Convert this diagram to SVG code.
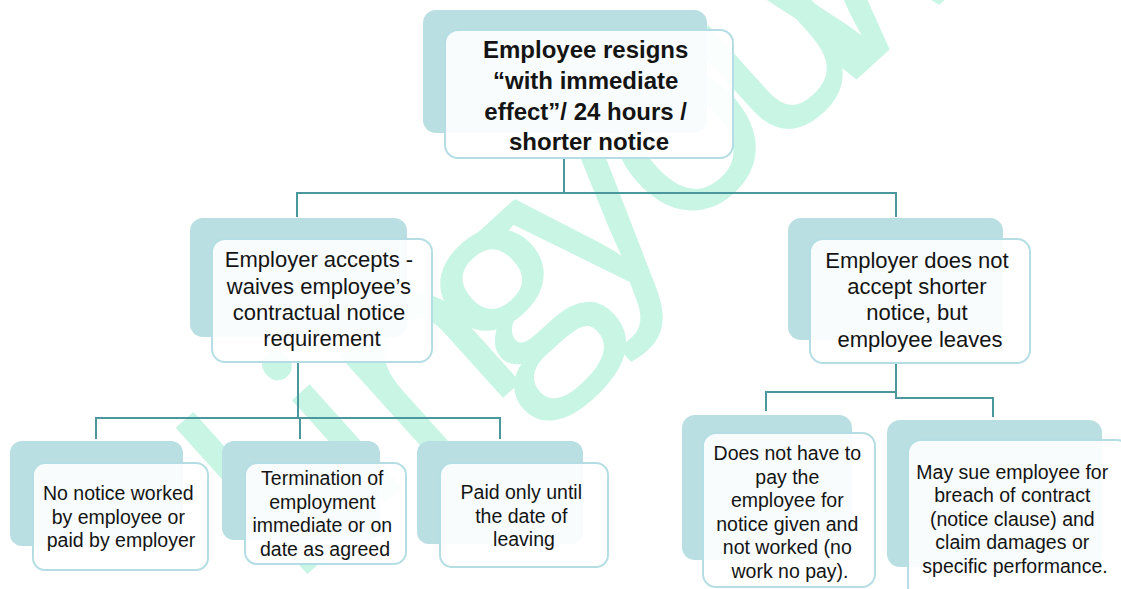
<svg xmlns="http://www.w3.org/2000/svg" width="1121" height="589" viewBox="0 0 1121 589">
  <style>
    .back { fill: #b9dfe2; }
    .front { fill: #ffffff; fill-opacity: 0.9; stroke: #b5dee4; stroke-width: 2; }
    .t { font-family: "Liberation Sans", Arial, sans-serif; fill: #141414; text-anchor: middle; }
    .title { font-size: 24px; font-weight: bold; }
    .mid { font-size: 22px; }
    .leaf { font-size: 19.5px; }
    .link { fill: none; stroke: #4a979d; stroke-width: 2; }
    .mark { font-family: "Open Sans", "Liberation Sans", sans-serif; font-size: 255px; fill: #c8f5e4; stroke: #c8f5e4; stroke-width: 3; }
  </style>

  <rect width="1121" height="589" fill="#ffffff"/>

  <!-- background watermark, set letter by letter along a rising baseline -->
  <g id="watermark">
    <text class="mark" transform="translate(475.5,420.5) rotate(-42)" y="0"
          x="-248 -143 -78 41 154 267 395 491">lingyouw</text>
  </g>

  <!-- connectors -->
  <g id="connectors">
    <path class="link" d="M564 158 V193 M297 217 V193 H896 V217"/>
    <path class="link" d="M298 362 V418 M96 439 V418 H500 V439 M300 418 V439"/>
    <path class="link" d="M896 364 V392 H766 V411 M896 392 V398 H993 V417"/>
  </g>

  <!-- root -->
  <g id="root">
    <rect class="back" x="423" y="10" width="284" height="123" rx="13"/>
    <rect class="front" x="445" y="30" width="288" height="128" rx="13"/>
    <text class="t title">
      <tspan x="589" y="58">Employee resigns</tspan>
      <tspan x="589" y="89">“with immediate</tspan>
      <tspan x="589" y="119.5">effect”/ 24 hours /</tspan>
      <tspan x="589" y="150">shorter notice</tspan>
    </text>
  </g>

  <!-- employer accepts -->
  <g id="accepts">
    <rect class="back" x="190" y="218" width="217" height="119" rx="13"/>
    <rect class="front" x="212" y="239" width="220" height="123" rx="13"/>
    <text class="t mid">
      <tspan x="322" y="267">Employer accepts -</tspan>
      <tspan x="322" y="294">waives employee’s</tspan>
      <tspan x="322" y="320">contractual notice</tspan>
      <tspan x="322" y="346">requirement</tspan>
    </text>
  </g>

  <!-- employer does not accept -->
  <g id="not-accepts">
    <rect class="back" x="788" y="218" width="215" height="122" rx="13"/>
    <rect class="front" x="810" y="239" width="220" height="124" rx="13"/>
    <text class="t mid">
      <tspan x="920" y="268">Employer does not</tspan>
      <tspan x="920" y="294">accept shorter</tspan>
      <tspan x="920" y="320">notice, but</tspan>
      <tspan x="920" y="347">employee leaves</tspan>
    </text>
  </g>

  <!-- leaves under "accepts" -->
  <g id="no-notice">
    <rect class="back" x="10" y="441" width="173" height="105" rx="12"/>
    <rect class="front" x="33" y="463" width="175" height="107" rx="12"/>
    <text class="t leaf">
      <tspan x="121" y="500">No notice worked</tspan>
      <tspan x="121" y="523.5">by employee or</tspan>
      <tspan x="121" y="547">paid by employer</tspan>
    </text>
  </g>

  <g id="termination">
    <rect class="back" x="222" y="441" width="158" height="99" rx="12"/>
    <rect class="front" x="245" y="463" width="161" height="101" rx="12"/>
    <text class="t leaf">
      <tspan x="325" y="485">Termination of</tspan>
      <tspan x="325" y="508.5">employment</tspan>
      <tspan x="325" y="532">immediate or on</tspan>
      <tspan x="325" y="555.5">date as agreed</tspan>
    </text>
  </g>

  <g id="paid-until">
    <rect class="back" x="417" y="441" width="166" height="103" rx="12"/>
    <rect class="front" x="440" y="463" width="168" height="104" rx="12"/>
    <text class="t leaf">
      <tspan x="524" y="499">Paid only until</tspan>
      <tspan x="524" y="522.5">the date of</tspan>
      <tspan x="524" y="546">leaving</tspan>
    </text>
  </g>

  <!-- leaves under "does not accept" -->
  <g id="no-pay">
    <rect class="back" x="682" y="415" width="170" height="145" rx="13"/>
    <rect class="front" x="703" y="433" width="172" height="154" rx="13"/>
    <text class="t leaf">
      <tspan x="790" y="460">Does not have to</tspan>
      <tspan x="790" y="483.5">pay the</tspan>
      <tspan x="790" y="507">employee for</tspan>
      <tspan x="790" y="530.5">notice given and</tspan>
      <tspan x="790" y="554">not worked (no</tspan>
      <tspan x="790" y="577.5">work no pay).</tspan>
    </text>
  </g>

  <g id="may-sue">
    <rect class="back" x="887" y="420" width="215" height="147" rx="13"/>
    <rect class="front" x="908" y="440" width="222" height="160" rx="13"/>
    <text class="t leaf">
      <tspan x="1015" y="479">May sue employee for</tspan>
      <tspan x="1015" y="502">breach of contract</tspan>
      <tspan x="1015" y="525.5">(notice clause) and</tspan>
      <tspan x="1015" y="549">claim damages or</tspan>
      <tspan x="1015" y="572.5">specific performance.</tspan>
    </text>
  </g>
</svg>
